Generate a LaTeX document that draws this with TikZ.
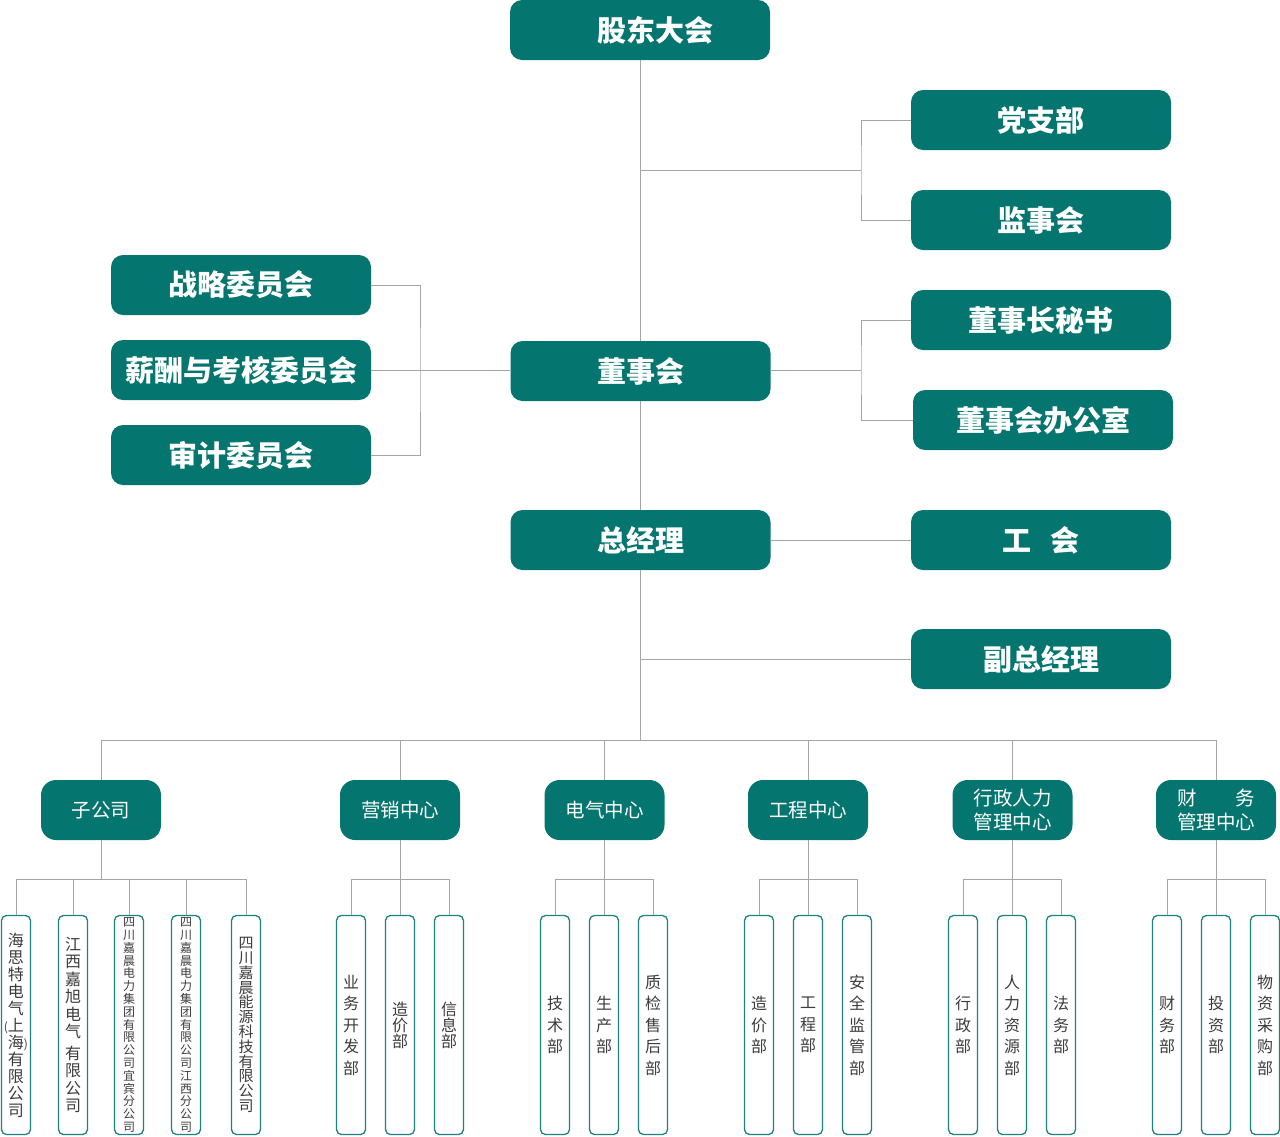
\documentclass[tikz,border=0pt]{standalone}
\usepackage{fontspec}
\setmainfont{Noto Sans CJK SC}
\definecolor{tealA}{RGB}{5,117,112}
\definecolor{tealB}{RGB}{28,130,126}
\definecolor{lineg}{RGB}{165,165,165}
\definecolor{txtg}{RGB}{60,60,60}
\tikzset{
  topbox/.style={fill=tealA, rounded corners=12pt, minimum width=260pt, minimum height=60pt, inner sep=0pt, text=white, font=\fontsize{29}{32}\selectfont\bfseries},
  midbox/.style={fill=tealA, rounded corners=15pt, minimum width=120pt, minimum height=60pt, inner sep=0pt, text=white, align=center, font=\fontsize{19.5}{24}\selectfont},
  leafbox/.style={draw=tealB, line width=1.3pt, fill=white, rounded corners=5pt, minimum width=29pt, minimum height=219pt, inner sep=0pt, text=txtg, align=center, font=\fontsize{16}{21.5}\selectfont},
  conn/.style={draw=lineg, line width=1pt}
}
\begin{document}
\begin{tikzpicture}[x=1pt,y=-1pt]
\useasboundingbox (0,0) rectangle (1280,1136);
% top level
\node[topbox] (gd) at (640,30) {\hspace*{30pt}股东大会};
\node[topbox] (dzb) at (1041,120) {党支部};
\node[topbox] (jsh) at (1041,220) {监事会};
\node[topbox] (msh) at (1041,320) {董事长秘书};
\node[topbox] (bgs) at (1043,420) {董事会办公室};
\node[topbox] (zl) at (241,285) {战略委员会};
\node[topbox] (xc) at (241,370) {薪酬与考核委员会};
\node[topbox] (sj) at (241,455) {审计委员会};
\node[topbox] (dsh) at (640.5,371) {董事会};
\node[topbox] (zjl) at (640.5,540) {总经理};
\node[topbox] (gh) at (1041,540) {工\hspace{0.65em}会};
\node[topbox] (fz) at (1041,659) {副总经理};
% coordinates
\coordinate (j1) at (640,170);
\coordinate (k1) at (861,170);
\coordinate (lk) at (420,370);
\coordinate (rk) at (861,370);
\coordinate (jf) at (640,659);
\coordinate (busL) at (101,740);
\coordinate (busR) at (1216,740);
\coordinate (busC) at (640,740);
% spine
\draw[conn] (gd.south) -- (gd.south |- dsh.north);
\draw[conn] (dsh.south -| gd.south) -- (zjl.north -| gd.south);
\draw[conn] (zjl.south -| gd.south) -- (busC);
% upper right branch
\draw[conn] (j1) -- (k1);
\draw[conn] (dzb.west) -| (k1) |- (jsh.west);
% committees
\draw[conn] (zl.east) -| (lk) |- (sj.east);
\draw[conn] (xc.east) -- (xc.east -| dsh.west);
% board office
\draw[conn] (dsh.east |- rk) -- (rk);
\draw[conn] (msh.west) -| (rk) |- (bgs.west);
% general manager
\draw[conn] (zjl.east) -- (gh.west);
\draw[conn] (jf) -- (fz.west);
% middle level
\node[midbox] (m1) at (101,810) {子公司};
\node[midbox] (m2) at (400,810) {营销中心};
\node[midbox] (m3) at (604.5,810) {电气中心};
\node[midbox] (m4) at (808,810) {工程中心};
\node[midbox] (m5) at (1012.5,810) {行政人力\\管理中心};
\node[midbox] (m6) at (1216,810) {财\hspace{2em}务\\管理中心};
\draw[conn] (busL) -- (busR);
\foreach \m in {m1,m2,m3,m4,m5,m6} {
  \draw[conn] (\m.north) -- (\m.north |- busL);
  \draw[conn] (\m.south) -- ++(0,40);
}
% leaves
\node[leafbox, font=\fontsize{16}{17}\selectfont] (a1) at (16,1025) {海\\思\\特\\电\\气\\\makebox[0pt][r]{\fontsize{12}{12}\selectfont(}上\\海\makebox[0pt][l]{\fontsize{12}{12}\selectfont)}\\有\\限\\公\\司};
\node[leafbox, font=\fontsize{16}{17.5}\selectfont] (a2) at (73,1025) {江\\西\\嘉\\旭\\电\\气\\[4pt]有\\限\\公\\司};
\node[leafbox, font=\fontsize{12}{12.8}\selectfont] (a3) at (129,1025) {四\\川\\嘉\\晨\\电\\力\\集\\团\\有\\限\\公\\司\\宜\\宾\\分\\公\\司};
\node[leafbox, font=\fontsize{12}{12.8}\selectfont] (a4) at (186,1025) {四\\川\\嘉\\晨\\电\\力\\集\\团\\有\\限\\公\\司\\江\\西\\分\\公\\司};
\node[leafbox, font=\fontsize{15}{14.8}\selectfont] (a5) at (246,1025) {四\\川\\嘉\\晨\\能\\源\\科\\技\\有\\限\\公\\司};
\draw[conn] (a1.north) -- ++(0,-35) -| (a5.north);
\foreach \c in {a2,a3,a4} \draw[conn] (\c.north) -- ++(0,-35);

\node[leafbox] (b1) at (351,1025) {业\\务\\开\\发\\部};
\node[leafbox, font=\fontsize{16}{16}\selectfont] (b2) at (400,1025) {造\\价\\部};
\node[leafbox, font=\fontsize{16}{16}\selectfont] (b3) at (449,1025) {信\\息\\部};
\draw[conn] (b1.north) -- ++(0,-35) -| (b3.north);
\draw[conn] (b2.north) -- ++(0,-35);

\node[leafbox] (c1) at (555,1025) {技\\术\\部};
\node[leafbox] (c2) at (604,1025) {生\\产\\部};
\node[leafbox] (c3) at (653,1025) {质\\检\\售\\后\\部};
\draw[conn] (c1.north) -- ++(0,-35) -| (c3.north);
\draw[conn] (c2.north) -- ++(0,-35);

\node[leafbox] (d1) at (759,1025) {造\\价\\部};
\node[leafbox] (d2) at (808,1025) {工\\程\\部};
\node[leafbox] (d3) at (857,1025) {安\\全\\监\\管\\部};
\draw[conn] (d1.north) -- ++(0,-35) -| (d3.north);
\draw[conn] (d2.north) -- ++(0,-35);

\node[leafbox] (e1) at (963,1025) {行\\政\\部};
\node[leafbox] (e2) at (1012,1025) {人\\力\\资\\源\\部};
\node[leafbox] (e3) at (1061,1025) {法\\务\\部};
\draw[conn] (e1.north) -- ++(0,-35) -| (e3.north);
\draw[conn] (e2.north) -- ++(0,-35);

\node[leafbox] (f1) at (1167,1025) {财\\务\\部};
\node[leafbox] (f2) at (1216,1025) {投\\资\\部};
\node[leafbox] (f3) at (1265,1025) {物\\资\\采\\购\\部};
\draw[conn] (f1.north) -- ++(0,-35) -| (f3.north);
\draw[conn] (f2.north) -- ++(0,-35);
\end{tikzpicture}
\end{document}
